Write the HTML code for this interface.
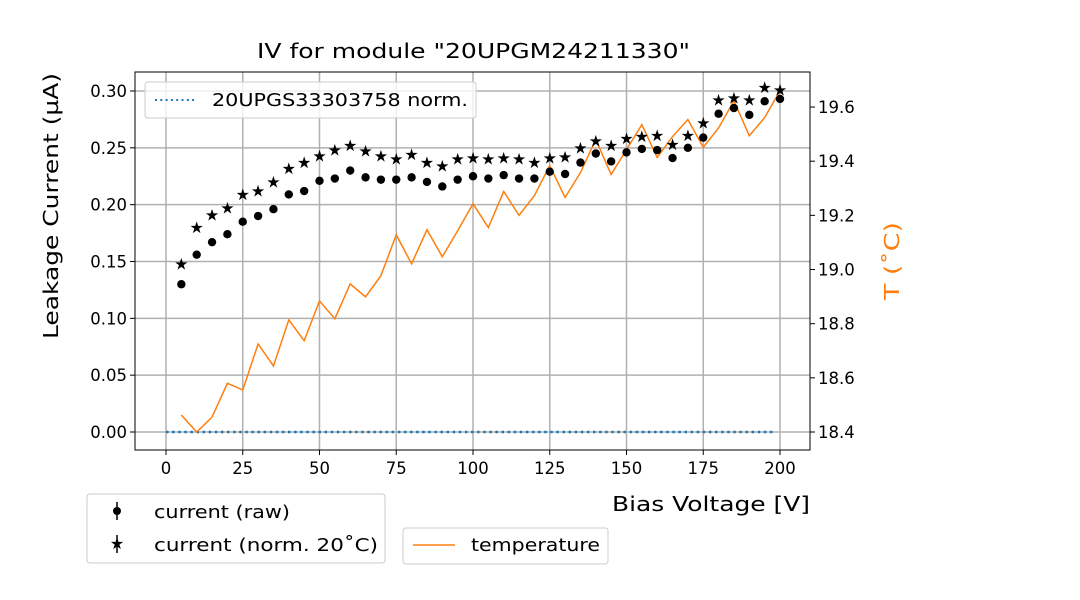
<!DOCTYPE html>
<html><head><meta charset="utf-8"><style>
body{margin:0;background:#fff}
svg{display:block;font-family:"DejaVu Sans","Liberation Sans",sans-serif}
</style></head><body>
<svg id="c" width="1080" height="600">
<g id="grid"></g>
<g id="marks"></g>
<rect x="135" y="72" width="675" height="378" fill="none" stroke="#000" stroke-width="1"/>
<g id="ticks"></g>
<text x="257" y="58" textLength="433" lengthAdjust="spacingAndGlyphs" font-size="20">IV for module "20UPGM24211330"</text>
<text x="612" y="511" textLength="198" lengthAdjust="spacingAndGlyphs" font-size="20">Bias Voltage [V]</text>
<text transform="translate(58,206) rotate(-90)" text-anchor="middle" textLength="266" lengthAdjust="spacingAndGlyphs" font-size="20">Leakage Current (µA)</text>
<text transform="translate(899,261) rotate(-90)" text-anchor="middle" textLength="78" lengthAdjust="spacingAndGlyphs" font-size="20" fill="#ff7f0e">T (˚C)</text>
<g>
<rect x="145" y="82" width="331" height="36" rx="3" fill="#fff" fill-opacity="0.8" stroke="#ccc"/>
<line x1="155" y1="100" x2="197" y2="100" stroke="#1f77b4" stroke-width="2" stroke-dasharray="2,3.3"/>
<text x="212" y="106" textLength="256" lengthAdjust="spacingAndGlyphs" font-size="17.5">20UPGS33303758 norm.</text>
</g>
<g>
<rect x="87" y="494" width="298" height="69" rx="3" fill="#fff" stroke="#ccc"/>
<line x1="117" y1="502" x2="117" y2="520" stroke="#000" stroke-width="1.5"/><circle cx="117" cy="511" r="4" fill="#000"/>
<text x="154" y="518" textLength="136" lengthAdjust="spacingAndGlyphs" font-size="17.5">current (raw)</text>
<line x1="117" y1="535" x2="117" y2="553" stroke="#000" stroke-width="1.5"/><text x="117" y="549" text-anchor="middle" font-size="16">★</text>
<text x="154" y="551" textLength="224" lengthAdjust="spacingAndGlyphs" font-size="17.5">current (norm. 20˚C)</text>
</g>
<g>
<rect x="403" y="528" width="205" height="36" rx="3" fill="#fff" stroke="#ccc"/>
<line x1="413" y1="545" x2="455" y2="545" stroke="#ff7f0e" stroke-width="1.5"/>
<text x="471" y="551" textLength="129" lengthAdjust="spacingAndGlyphs" font-size="17.5">temperature</text>
</g>
</svg>
<script>
const voltages=[5,10,15,20,25,30,35,40,45,50,55,60,65,70,75,80,85,90,95,100,105,110,115,120,125,130,135,140,145,150,155,160,165,170,175,180,185,190,195,200];
const currentRaw=[0.130,0.156,0.167,0.174,0.185,0.190,0.196,0.209,0.212,0.221,0.223,0.230,0.224,0.222,0.222,0.224,0.220,0.216,0.222,0.225,0.223,0.226,0.223,0.223,0.229,0.227,0.237,0.245,0.238,0.246,0.249,0.248,0.241,0.250,0.259,0.280,0.285,0.279,0.291,0.293];
const currentNorm=[0.148,0.180,0.191,0.197,0.209,0.212,0.220,0.232,0.237,0.243,0.248,0.252,0.247,0.243,0.240,0.244,0.237,0.234,0.240,0.241,0.240,0.241,0.240,0.237,0.241,0.242,0.250,0.256,0.252,0.258,0.260,0.261,0.253,0.261,0.272,0.292,0.294,0.292,0.303,0.301];
const temperature=[18.463,18.40,18.455,18.58,18.555,18.725,18.644,18.814,18.737,18.884,18.818,18.947,18.899,18.977,19.128,19.021,19.147,19.047,19.143,19.243,19.155,19.288,19.2,19.273,19.384,19.266,19.358,19.48,19.351,19.443,19.535,19.414,19.491,19.554,19.451,19.523,19.623,19.494,19.561,19.66];
const refRange=[0,198];
const xTicks=[0,25,50,75,100,125,150,175,200];
const yTicks=[0,0.05,0.10,0.15,0.20,0.25,0.30];
const y2Ticks=[18.4,18.6,18.8,19.0,19.2,19.4,19.6];
const NS="http://www.w3.org/2000/svg";
const X=v=>166+v*3.07, Y=v=>432-v*1136.7, Y2=t=>432-(t-18.4)*270.8;
function mk(p,t,a,txt){const e=document.createElementNS(NS,t);for(const k in a)e.setAttribute(k,a[k]);if(txt!=null)e.textContent=txt;p.appendChild(e);return e;}
const G=document.getElementById('grid'),M=document.getElementById('marks'),T=document.getElementById('ticks');
xTicks.forEach(v=>{const l=mk(G,'line',{x1:X(v),x2:X(v),y1:72,y2:450,stroke:'#b0b0b0','stroke-width':1.5});


mk(T,'line',{x1:X(v),x2:X(v),y1:450,y2:455,stroke:'#000'});
const t=mk(T,'text',{x:X(v),y:474,'text-anchor':'middle','font-size':16.5},String(v));

});
yTicks.forEach(v=>{const l=mk(G,'line',{x1:135,x2:810,y1:Y(v),y2:Y(v),stroke:'#b0b0b0','stroke-width':1.5});


mk(T,'line',{x1:130,x2:135,y1:Y(v),y2:Y(v),stroke:'#000'});
const t=mk(T,'text',{x:127,y:Y(v)+6,'text-anchor':'end','font-size':16.5},v.toFixed(2));

});
y2Ticks.forEach(v=>{mk(T,'line',{x1:810,x2:815,y1:Y2(v),y2:Y2(v),stroke:'#000'});
const t=mk(T,'text',{x:818,y:Y2(v)+6,'font-size':16.5},v.toFixed(1));

});
const ref=mk(M,'line',{x1:X(refRange[0]),x2:X(refRange[1]),y1:Y(0),y2:Y(0),stroke:'#1f77b4','stroke-width':2.5,'stroke-dasharray':'2.5,3.6'});


const tl=mk(M,'polyline',{points:voltages.map((v,i)=>X(v)+','+Y2(temperature[i])).join(' '),fill:'none',stroke:'#ff7f0e','stroke-width':1.5});


voltages.forEach((v,i)=>{const c=mk(M,'circle',{cx:X(v),cy:Y(currentRaw[i]),r:4.2,fill:'#000'});


const s=mk(M,'text',{x:X(v),y:Y(currentNorm[i])+5.5,'text-anchor':'middle','font-size':16,fill:'#000'},'★');

});
</script>
</body></html>
